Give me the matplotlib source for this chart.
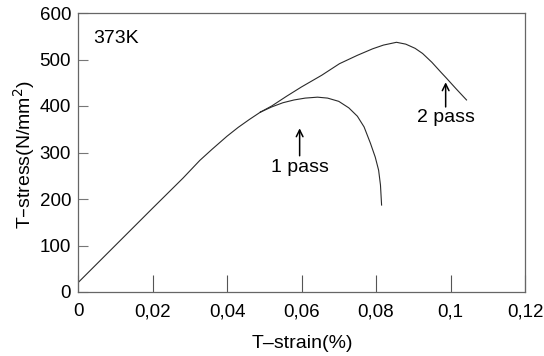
import matplotlib
matplotlib.use("Agg")
import matplotlib.pyplot as plt

# shared elastic part of both curves
strain_common = [0.0, 0.01, 0.02, 0.0282, 0.0327, 0.036, 0.04, 0.043, 0.046, 0.049]
stress_common = [20, 100, 180, 245, 283, 307, 335, 354, 371, 387]

# 1 pass branch
strain_1 = [0.049, 0.052, 0.055, 0.058, 0.061, 0.0643, 0.067, 0.070, 0.0727,
            0.075, 0.0768, 0.0785, 0.0798, 0.0807, 0.0812, 0.0815]
stress_1 = [387, 398, 407, 413, 417, 419, 417, 410, 396,
            378, 355, 320, 290, 262, 230, 187]

# 2 pass branch
strain_2 = [0.049, 0.052, 0.056, 0.060, 0.0654, 0.0702, 0.075, 0.0791, 0.082,
            0.0855, 0.088, 0.0905, 0.0925, 0.095, 0.0975, 0.0989, 0.1015, 0.1043]
stress_2 = [387, 400, 421, 441, 466, 491, 509, 523, 531,
            537, 533, 524, 513, 494, 472, 460, 437, 413]

xticks = [0, 0.02, 0.04, 0.06, 0.08, 0.1, 0.12]
xtick_labels = ["0", "0,02", "0,04", "0,06", "0,08", "0,1", "0,12"]
yticks = [0, 100, 200, 300, 400, 500, 600]

plt.rcParams["font.family"] = ["Liberation Sans", "DejaVu Sans"]

fig = plt.figure(figsize=(5.44, 3.56), dpi=100)
ax = fig.add_axes([78 / 544, 64 / 356, 447 / 544, 279 / 356])

line_col = "#2a2a2a"
ax.plot(strain_common, stress_common, color=line_col, lw=0.8)
ax.plot(strain_1, stress_1, color=line_col, lw=0.8)
ax.plot(strain_2, stress_2, color=line_col, lw=0.8)

ax.set_xlim(0, 0.12)
ax.set_ylim(0, 600)
ax.set_xticks(xticks)
ax.set_xticklabels(xtick_labels)
ax.set_yticks(yticks)
ax.tick_params(axis="x", direction="in", length=12, width=0.8, colors="#555555",
               labelcolor="black", labelsize=13.5, pad=8)
ax.tick_params(axis="y", direction="in", length=7, width=0.8, colors="#777777",
               labelcolor="black", labelsize=13.5, pad=5)
for s in ax.spines.values():
    s.set_color("#666666")
    s.set_linewidth(0.9)

fig.text(302 / 544, 1 - 343 / 356, "T\u2013strain(%)", fontsize=14,
         ha="center", va="center")
fig.text(24 / 544, 1 - 155 / 356, "T\u2013stress(N/mm$^2$)", fontsize=14,
         ha="center", va="center", rotation=90)

ax.text(0.0102, 546, "373K", fontsize=14, ha="center", va="center")

# labels with arrows pointing at each curve
ax.text(0.0595, 267, "1 pass", fontsize=14, ha="center", va="center")
ax.annotate("", xy=(0.0595, 352), xytext=(0.0595, 293),
            arrowprops=dict(arrowstyle="->", color="black", lw=1.1,
                            shrinkA=0, shrinkB=0, mutation_scale=12))
ax.text(0.0987, 376, "2 pass", fontsize=14, ha="center", va="center")
ax.annotate("", xy=(0.0987, 451), xytext=(0.0987, 398),
            arrowprops=dict(arrowstyle="->", color="black", lw=1.1,
                            shrinkA=0, shrinkB=0, mutation_scale=12))

fig.savefig("out.png", dpi=100)
